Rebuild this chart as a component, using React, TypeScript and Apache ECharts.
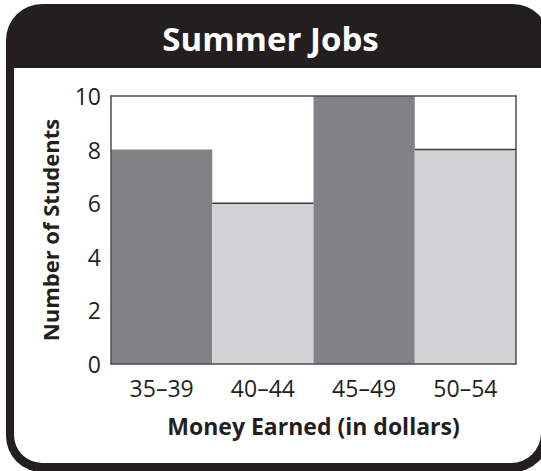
import React, { useEffect, useRef } from "react";
import * as echarts from "echarts";

const titleText = "Summer Jobs";
const categories = ["35–39", "40–44", "45–49", "50–54"];
const students = [8, 6, 10, 8];
const barShades = ["dark", "light", "dark", "light"];
const yTicks = [0, 2, 4, 6, 8, 10];
const xAxisTitle = "Money Earned (in dollars)";
const yAxisTitle = "Number of Students";

const INK = "#231f20";
const DARK = "#808285";
const LIGHT = "#d1d3d4";
const AXIS = "#4d4d4f";
const FONT = "'Open Sans', 'Noto Sans', sans-serif";

export default function App() {
  const ref = useRef<HTMLDivElement>(null);
  useEffect(() => {
    document.body.style.margin = "0";
    const chart = echarts.init(ref.current!, undefined, { renderer: "svg" });
    const yMin = yTicks[0];
    const yMax = yTicks[yTicks.length - 1];
    const yStep = yTicks[1] - yTicks[0];
    chart.setOption({
      animation: false,
      textStyle: { fontFamily: FONT },
      title: {
        text: titleText,
        left: "center",
        top: 17,
        padding: [5, 0, 5, 13],
        textStyle: { color: "#ffffff", fontSize: 33, fontWeight: "bold", fontFamily: FONT },
      },
      graphic: [
        {
          type: "rect",
          z: -10,
          silent: true,
          shape: { x: 6, y: 4, width: 543, height: 468, r: 36 },
          style: { fill: INK },
        },
        {
          type: "rect",
          z: -9,
          silent: true,
          shape: { x: 14, y: 68, width: 527, height: 395, r: [0, 0, 30, 28] },
          style: { fill: "#ffffff" },
        },
      ],
      grid: { left: 111, right: 25, top: 96, bottom: 107, show: false },
      xAxis: [
        {
          type: "category",
          data: categories,
          position: "bottom",
          z: 5,
          name: xAxisTitle,
          nameLocation: "middle",
          nameGap: 50,
          nameTextStyle: { color: INK, fontSize: 23, fontWeight: "bold", fontFamily: FONT },
          axisLine: { show: true, onZero: false, lineStyle: { color: AXIS, width: 1.5 } },
          axisTick: { show: false },
          axisLabel: { color: INK, fontSize: 23, margin: 12, fontFamily: FONT },
        },
        {
          type: "category",
          data: categories,
          position: "top",
          z: 5,
          axisLine: { show: true, onZero: false, lineStyle: { color: AXIS, width: 1.5 } },
          axisTick: { show: false },
          axisLabel: { show: false },
        },
      ],
      yAxis: [
        {
          type: "value",
          min: yMin,
          max: yMax,
          interval: yStep,
          position: "left",
          z: 5,
          name: yAxisTitle,
          nameLocation: "middle",
          nameGap: 50,
          nameRotate: 90,
          nameTextStyle: { color: INK, fontSize: 22, fontWeight: "bold", fontFamily: FONT },
          axisLine: { show: true, onZero: false, lineStyle: { color: AXIS, width: 1.5 } },
          axisTick: { show: false },
          splitLine: { show: false },
          axisLabel: { color: INK, fontSize: 23, margin: 10, fontFamily: FONT },
        },
        {
          type: "value",
          min: yMin,
          max: yMax,
          interval: yStep,
          position: "right",
          z: 5,
          axisLine: { show: true, onZero: false, lineStyle: { color: AXIS, width: 1.5 } },
          axisTick: { show: false },
          splitLine: { show: false },
          axisLabel: { show: false },
        },
      ],
      series: [
        {
          type: "bar",
          xAxisIndex: 0,
          yAxisIndex: 0,
          barWidth: "100%",
          barCategoryGap: 0,
          z: 2,
          data: students.map((v, i) => ({
            value: v,
            itemStyle: { color: barShades[i] === "dark" ? DARK : LIGHT },
          })),
        },
        {
          type: "custom",
          xAxisIndex: 0,
          yAxisIndex: 0,
          z: 3,
          data: students.map((v, i) => [i, v]),
          renderItem: (params: any, api: any) => {
            const idx = params.dataIndex;
            if (barShades[idx] !== "light") return null;
            const p = api.coord([api.value(0), api.value(1)]);
            const w = api.size([1, 0])[0];
            return {
              type: "line",
              shape: { x1: p[0] - w / 2, y1: p[1], x2: p[0] + w / 2, y2: p[1] },
              style: { stroke: "#3a3a3c", lineWidth: 1.5 },
            };
          },
        },
      ],
    });
    return () => chart.dispose();
  }, []);
  return <div ref={ref} style={{ width: 541, height: 471 }} />;
}
